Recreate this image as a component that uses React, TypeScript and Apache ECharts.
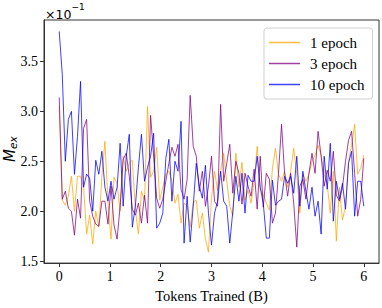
import React, { useEffect, useRef } from "react";
import * as echarts from "echarts";

const STEP = 0.06; // billions of tokens between evaluations
const xTicks = [0, 1, 2, 3, 4, 5, 6];
const yTicks = [1.5, 2.0, 2.5, 3.0, 3.5];
const seriesNames = ["1 epoch", "3 epoch", "10 epoch"];

const epoch1 = [
  3.05, 2.11, 2.06, 2.15, 2.35, 2.0, 2.35, 2.35, 2.24, 1.77, 1.96, 1.67, 2.0, 1.84, 2.34, 2.7,
  2.1, 1.72, 2.34, 2.28, 2.0, 2.55, 2.4, 2.48, 2.51, 2.02, 1.77, 2.2, 2.11, 3.05, 2.34, 2.4, 2.64,
  2.11, 2.24, 2.37, 2.4, 2.3, 2.08, 2.17, 1.88, 2.08, 2.05, 1.84, 2.09, 2.11, 1.83, 1.98, 1.72, 1.59, 2.14, 2.4,
  2.21, 2.4, 2.58, 2.3, 2.05, 1.95, 2.58, 2.24, 2.49, 2.11, 2.21, 2.08, 2.3, 2.65, 2.21, 2.17, 2.08, 2.01,
  2.43, 2.63, 2.37, 2.3, 2.4, 2.24, 2.4, 2.63, 2.37, 1.98, 2.37, 2.3, 2.37, 2.5, 2.56, 2.66, 2.56, 2.37,
  2.27, 1.98, 2.4, 1.7, 2.24, 1.91, 2.05, 2.5, 2.66, 2.87, 2.37, 2.43, 2.56,
];

const epoch3 = [
  3.14, 2.12, 2.2, 2.03, 2.0, 1.76, 2.12, 1.93, 2.83, 2.92, 2.1, 1.95, 1.87, 1.85, 2.1,
  2.1, 1.87, 2.25, 1.86, 1.72, 2.05, 2.52, 2.58, 2.35, 2.02, 1.96, 2.08, 1.88, 2.16, 1.88, 2.96, 2.55, 2.13,
  2.03, 2.12, 2.3, 2.48, 2.64, 2.55, 2.67, 2.22, 2.12, 2.32, 3.16, 2.65, 2.55, 2.2, 2.4, 2.05, 2.25, 2.55, 2.1,
  2.05, 3.07, 2.3, 2.48, 2.67, 2.18, 2.5, 2.38, 2.07, 2.38, 2.25, 2.15, 2.42, 2.02, 2.55, 2.04, 2.38, 2.32,
  1.88, 1.98, 2.38, 2.87, 2.38, 2.15, 2.38, 2.08, 1.64, 2.25, 2.32, 2.12, 2.38, 2.58, 2.38, 2.8, 2.55, 2.25, 2.41,
  2.3, 2.6, 2.16, 2.1, 2.24, 2.5, 2.71, 2.8, 2.38, 1.95, 2.12, 2.53,
];

const epoch10 = [
  3.8, 3.37, 2.5, 2.92, 3.0, 2.37, 2.75, 3.3, 2.24, 2.37, 2.33, 2.0, 2.51, 2.37, 2.6,
  2.24, 2.1, 2.3, 2.12, 2.24, 2.68, 2.05, 2.55, 2.77, 1.84, 2.05, 2.44, 2.77, 2.3, 2.44, 2.55, 2.78,
  1.83,
  1.88, 1.98, 2.53, 2.72, 2.1, 2.5, 2.4, 2.9, 1.68, 2.15, 1.69, 2.05, 2.48, 2.25, 2.13, 2.46, 1.98, 1.66, 1.98,
  2.1, 2.4, 2.1, 2.05, 1.68, 2.0, 2.35, 2.1, 2.38, 1.98, 2.36, 2.3, 2.3, 2.55, 2.24, 2.08, 1.73, 1.73,
  2.31, 2.06, 2.1, 2.12, 2.35, 2.28, 2.35, 2.18, 2.55, 2.05, 2.4, 2.2, 2.02, 2.24, 1.95, 2.1, 1.77, 2.55,
  2.22, 2.68, 1.9, 2.3, 2.12, 2.28, 2.02, 2.48, 2.6, 1.95, 2.3, 2.3, 2.05,
];

const colors = ["#FFA500", "#800080", "#0000FF"];
const SERIF = "Liberation Serif";
const SANS = "DejaVu Sans";

const toPoints = (vals: number[]) => vals.map((v, i) => [+(i * STEP).toFixed(2), v]);

export default function App() {
  const ref = useRef<HTMLDivElement>(null);
  useEffect(() => {
    if (!ref.current) return;
    const chart = echarts.init(ref.current, undefined, { renderer: "svg" });
    const all = [epoch1, epoch3, epoch10];
    chart.setOption({
      animation: false,
      backgroundColor: "#ffffff",
      textStyle: { fontFamily: SERIF, color: "#000" },
      grid: {
        left: 44,
        right: 3,
        top: 20,
        bottom: 37,
        show: true,
        borderColor: "#333",
        borderWidth: 1,
        backgroundColor: "transparent",
      },
      legend: {
        orient: "vertical",
        left: 264,
        top: 28,
        padding: [6, 8, 6, 5],
        itemGap: 4,
        itemWidth: 31,
        itemHeight: 1.5,
        icon: "rect",
        borderColor: "#d0d0d0",
        borderWidth: 1,
        borderRadius: 3,
        backgroundColor: "rgba(255,255,255,0.85)",
        textStyle: {
          fontFamily: SERIF,
          fontSize: 15,
          lineHeight: 17,
          color: "#000",
          padding: [0, 0, 0, 5],
        },
        data: seriesNames,
      },
      xAxis: {
        type: "value",
        min: -0.3,
        max: 6.3,
        splitLine: { show: false },
        axisLine: { show: true, onZero: false, lineStyle: { color: "#333", width: 1 } },
        axisTick: { show: true, inside: false, length: 4, lineStyle: { color: "#333" }, customValues: xTicks },
        axisLabel: {
          customValues: xTicks,
          fontFamily: SERIF,
          fontSize: 14,
          color: "#000",
          margin: 6,
          formatter: (v: number) => String(v),
        },
        name: "Tokens Trained (B)",
        nameLocation: "middle",
        nameGap: 22,
        nameTextStyle: { fontFamily: SERIF, fontSize: 14.5, color: "#000" },
      },
      yAxis: {
        type: "value",
        min: 1.48,
        max: 3.915,
        splitLine: { show: false },
        axisLine: { show: true, onZero: false, lineStyle: { color: "#333", width: 1 } },
        axisTick: { show: true, inside: false, length: 4, lineStyle: { color: "#333" }, customValues: yTicks },
        axisLabel: {
          customValues: yTicks,
          fontFamily: SERIF,
          fontSize: 14,
          color: "#000",
          margin: 6,
          formatter: (v: number) => v.toFixed(1),
        },
      },
      graphic: [
        {
          type: "text",
          left: 45,
          top: 2,
          style: {
            text: "{a|×10}{b|−1}",
            rich: {
              a: { fontFamily: SANS, fontSize: 12.5, color: "#000", verticalAlign: "bottom", padding: [6, 0, 0, 0] },
              b: { fontFamily: SANS, fontSize: 9, color: "#000", verticalAlign: "top" },
            },
          },
        },
        {
          type: "text",
          x: 1,
          y: 162,
          rotation: Math.PI / 2,
          style: {
            text: "{m|M}{s|ex}",
            rich: {
              m: { fontFamily: SANS, fontStyle: "italic", fontSize: 15, color: "#000" },
              s: { fontFamily: SANS, fontStyle: "italic", fontSize: 10.5, color: "#000", padding: [6, 0, 0, 0] },
            },
            verticalAlign: "top",
          },
        },
      ],
      series: all.map((vals, k) => ({
        name: seriesNames[k],
        type: "line",
        data: toPoints(vals),
        symbol: "none",
        showSymbol: false,
        lineStyle: { color: colors[k], width: 1, opacity: 0.75 },
        itemStyle: { color: colors[k], opacity: 0.75 },
        color: colors[k],
        z: 2 + k,
      })),
    });
    return () => chart.dispose();
  }, []);
  return <div ref={ref} style={{ position: "fixed", left: 0, top: 0, width: 382, height: 308 }} />;
}
